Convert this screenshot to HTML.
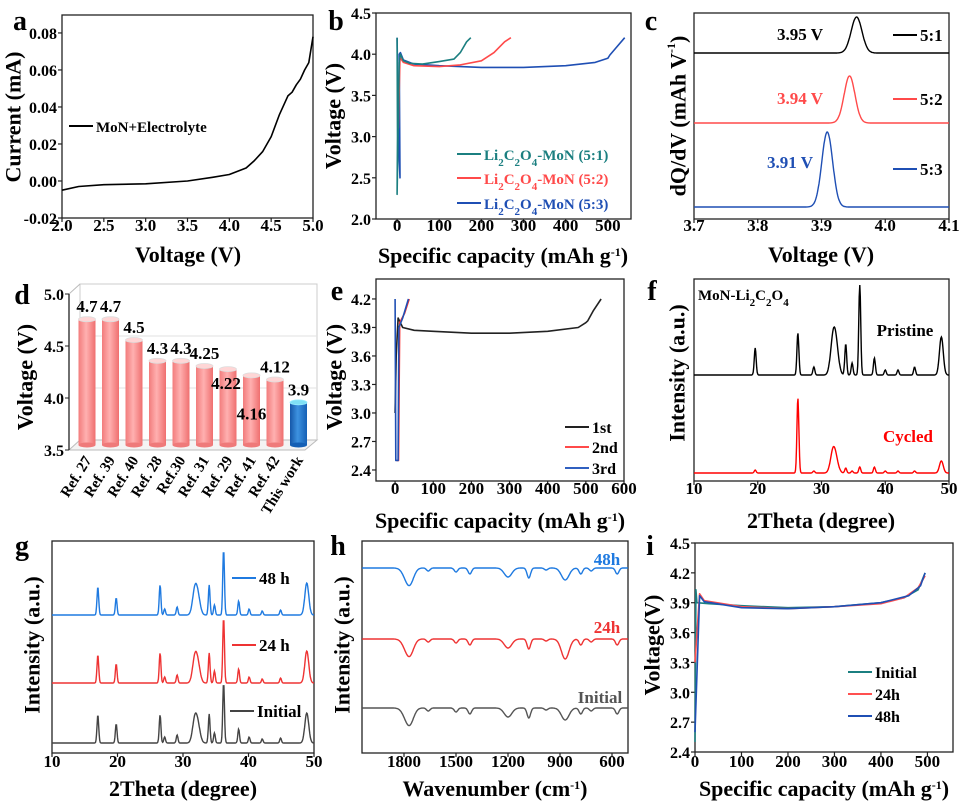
<!DOCTYPE html>
<html><head><meta charset="utf-8"><style>
body{margin:0;background:#fff}
svg{display:block;font-family:"Liberation Serif",serif;font-weight:bold}
</style></head><body>
<svg id="fig" width="961" height="806" viewBox="0 0 961 806">
<defs>
<linearGradient id="pinkg" x1="0" x2="1"><stop offset="0" stop-color="#f27c7c"/><stop offset="0.45" stop-color="#ffb0b0"/><stop offset="1" stop-color="#ef6f6f"/></linearGradient>
<linearGradient id="blueg" x1="0" x2="1"><stop offset="0" stop-color="#1557a8"/><stop offset="0.45" stop-color="#3d92e0"/><stop offset="1" stop-color="#1560b5"/></linearGradient>
</defs>
</svg>
<script>
// ---------- data ----------
const aV=[2.0,2.2,2.5,3.0,3.5,3.8,4.0,4.2,4.3,4.4,4.5,4.6,4.7,4.75,4.8,4.85,4.9,4.95,5.0];
const aI=[-0.005,-0.003,-0.002,-0.0015,0,0.002,0.0035,0.007,0.011,0.016,0.024,0.036,0.046,0.048,0.052,0.055,0.06,0.064,0.078];
const b1Q=[0,1,0,5,8,15,30,60,100,135,150,165,175];
const b1V=[4.2,3.0,2.3,3.9,4.0,3.92,3.89,3.88,3.91,3.94,4.02,4.15,4.2];
const b2Q=[3,7,15,40,100,150,200,230,255,270];
const b2V=[3.1,3.96,3.9,3.86,3.85,3.87,3.92,4.02,4.15,4.2];
const b3Q=[0,3,7,5,8,15,40,100,200,300,400,470,500,505,520,540];
const b3V=[4.2,3.0,2.5,4.0,4.02,3.93,3.88,3.86,3.84,3.84,3.86,3.9,3.95,3.99,4.08,4.2];
const cCenters=[3.955,3.944,3.909];
const cHeights=[36,47,75];
const cLabels=["3.95 V","3.94 V","3.91 V"];
const cLegend=["5:1","5:2","5:3"];
const dCats=["Ref. 27","Ref. 39","Ref. 40","Ref. 28","Ref.30","Ref. 31","Ref. 29","Ref. 41","Ref. 42","This work"];
const dVals=[4.7,4.7,4.5,4.3,4.3,4.25,4.22,4.16,4.12,3.9];
const dLabels=["4.7","4.7","4.5","4.3","4.3","4.25","4.22","4.16","4.12","3.9"];
const e1Q=[0,3,8,20,50,100,200,300,400,480,500,505,520,540];
const e1V=[3.0,3.6,4.0,3.9,3.87,3.86,3.84,3.84,3.86,3.9,3.95,3.97,4.08,4.2];
const e2Q=[4,9,12,25,37];
const e2V=[2.5,2.5,3.95,4.05,4.2];
const e3Q=[0,2,8,10,20,35];
const e3V=[4.2,2.5,2.5,3.9,4.0,4.2];
const fPos=[19.6,26.3,28.8,31.8,32.3,33.8,34.8,36.0,38.3,40.0,42.0,44.6,48.8];
const fPristine=[27,42,8,33,25,31,12,90,17,5,5,8,38];
const fCycled=[3,75,2,21,10,5,2,6,6,2,2,2,12];
const gPos=[17.0,19.8,26.5,27.2,29.1,31.8,32.3,34.0,34.8,36.2,38.5,40.1,42.1,44.9,48.9];
const g48=[28,17,30,6,8,24,16,30,10,65,14,6,4,5,32];
const g24=[28,19,30,6,8,24,16,30,12,65,14,6,4,5,32];
const gIni=[28,19,28,6,8,23,15,29,10,60,14,6,4,5,30];
const hPos=[1790,1765,1660,1500,1420,1200,1080,980,870,780,720,570];
const h48=[6,14,3,4,6,9,10,2,12,6,3,6];
const h24=[6,14,3,4,6,9,10,2,20,6,3,6];
const hIni=[6,14,3,4,6,9,10,2,12,6,3,6];
const iQ1=[0,2,4,30,100,200,300,400,450,480,495];
const iV1=[2.5,4.03,3.9,3.89,3.87,3.85,3.86,3.9,3.95,4.03,4.2];
const iQ2=[0,10,20,100,200,300,400,450,480,495];
const iV2=[3.3,3.99,3.92,3.86,3.84,3.86,3.89,3.95,4.05,4.17];
const iQ3=[0,10,20,100,200,300,400,460,485,495];
const iV3=[2.6,3.97,3.91,3.85,3.84,3.86,3.9,3.97,4.07,4.2];

// ---------- helpers ----------
const NS="http://www.w3.org/2000/svg";
const svg=document.getElementById('fig');
function mk(tag,attrs,name){
  const e=document.createElementNS(NS,tag);
  for(const k in attrs) e.setAttribute(k,attrs[k]);
  
  
  svg.appendChild(e); return e;
}
function txt(x,y,s,size,name,o){
  o=o||{};
  const a={x:x,y:y,'font-size':size,fill:o.fill||'#000','text-anchor':o.anchor||'middle'};
  if(o.rot!==undefined){a.transform='rotate('+o.rot+' '+x+' '+y+')';}
  if(o.db) a['dominant-baseline']=o.db;
  const e=mk('text',a,name); e.innerHTML=s; return e;
}
function scale(d0,d1,p0,p1){return v=>p0+(v-d0)*(p1-p0)/(d1-d0);}
function line(xs,ys,sx,sy,color,name,w){
  const pts=xs.map((x,i)=>sx(x).toFixed(1)+','+sy(ys[i]).toFixed(1)).join(' ');
  return mk('polyline',{points:pts,fill:'none',stroke:color,'stroke-width':w||1.6,'stroke-linejoin':'round'},name);
}
function frame(x0,y0,x1,y1,name){mk('rect',{x:x0,y:y0,width:x1-x0,height:y1-y0,fill:'none',stroke:'#222','stroke-width':1.3},name);}
function xticks(vals,labels,sx,y1,ly,name){
  vals.forEach((v,i)=>{mk('line',{x1:sx(v),x2:sx(v),y1:y1,y2:y1+4,stroke:'#222','stroke-width':1.2},name+'-tick');
    txt(sx(v),ly,labels[i],17,name+'-label');});
}
function yticks(vals,labels,sy,x0,name){
  vals.forEach((v,i)=>{mk('line',{x1:x0,x2:x0-4,y1:sy(v),y2:sy(v),stroke:'#222','stroke-width':1.2},name+'-tick');
    txt(x0-5,sy(v)+6,labels[i],16,name+'-label',{anchor:'end'});});
}
function peaks(pos,h,sig,x0,x1,sx,base,sign,name,color){
  const pts=[];
  for(let i=0;i<=500;i++){const x=x0+(x1-x0)*i/500;let s=0;
    pos.forEach((p,k)=>{const sg=sig(p);s+=h[k]*Math.exp(-((x-p)*(x-p))/(2*sg*sg));});
    pts.push(sx(x).toFixed(1)+','+(base-sign*s).toFixed(1));}
  return mk('polyline',{points:pts.join(' '),fill:'none',stroke:color,'stroke-width':1.4},name);
}
function legendLine(x,y,color,label,name,fs,tc){
  mk('line',{x1:x,x2:x+24,y1:y,y2:y,stroke:color,'stroke-width':2},name+'-line');
  txt(x+27,y+6,label,fs||17,name+'-text',{anchor:'start',fill:tc||'#000'});
}
const sub=s=>'<tspan baseline-shift="sub" font-size="11">'+s+'</tspan>';
const sup=s=>'<tspan baseline-shift="super" font-size="12">'+s+'</tspan>';
const r=(a,b,s)=>{const o=[];for(let v=a;v<=b+1e-9;v+=s)o.push(+v.toFixed(3));return o;};

// ---------- panel a ----------
{const sx=scale(2,5,62,313), sy=scale(-0.02,0.0897,218,15);
frame(62,15,313,218,'panel-a-frame');
const xv=r(2,5,0.5); xticks(xv,xv.map(v=>v.toFixed(1)),sx,218,231,'a-x');
const yv=r(-0.02,0.08,0.02); yticks(yv,yv.map(v=>v.toFixed(2)),sy,62,'a-y');
line(aV,aI,sx,sy,'#000','a-current-curve');
legendLine(69,126,'#000','MoN+Electrolyte','a-legend',15);
txt(188,262,'Voltage (V)',22,'a-x-title');
txt(13,117,'Current (mA)',22,'a-y-title',{rot:-90,db:'central'});
txt(20,30,'a',28,'panel-a-letter');}

// ---------- panel b ----------
{const sx=scale(-50,555,376,631), sy=scale(2,4.5,219,13);
frame(376,13,631,219,'panel-b-frame');
const xv=r(0,500,100); xticks(xv,xv.map(String),sx,219,231,'b-x');
const yv=r(2,4.5,0.5); yticks(yv,yv.map(v=>v.toFixed(1)),sy,376,'b-y');
line(b3Q,b3V,sx,sy,'#1f4fb4','b-series-5-3');
line(b2Q,b2V,sx,sy,'#ff4a4a','b-series-5-2');
line(b1Q,b1V,sx,sy,'#1b7f80','b-series-5-1');
legendLine(457,154,'#1b7f80','Li'+sub('2')+'C'+sub('2')+'O'+sub('4')+'-MoN (5:1)','b-legend-5-1',15,'#1b7f80');
legendLine(457,178,'#ff4a4a','Li'+sub('2')+'C'+sub('2')+'O'+sub('4')+'-MoN (5:2)','b-legend-5-2',15,'#ff4a4a');
legendLine(457,203,'#1f4fb4','Li'+sub('2')+'C'+sub('2')+'O'+sub('4')+'-MoN (5:3)','b-legend-5-3',15,'#1f4fb4');
txt(503,263,'Specific capacity (mAh g'+sup('-1')+')',22,'b-x-title');
txt(333,116,'Voltage (V)',22,'b-y-title',{rot:-90,db:'central'});
txt(336,30,'b',28,'panel-b-letter');}

// ---------- panel c ----------
{const sx=scale(3.7,4.1,694,949);
frame(694,13,949,219,'panel-c-frame');
const xv=r(3.7,4.1,0.1); xticks(xv,xv.map(v=>v.toFixed(1)),sx,219,231,'c-x');
const bases=[53,123,207], cols=['#000','#ff4a4a','#1f4fb4'];
cCenters.forEach((c,i)=>{peaks([c],[cHeights[i]],()=>0.0085,3.7,4.1,sx,bases[i],1,'c-peak-'+cLegend[i],cols[i]);
  txt(i==2?790:800,[40,104,168][i],cLabels[i],17,'c-peak-label',{fill:cols[i]});
  legendLine(893,[35,99,169][i],cols[i],cLegend[i],'c-legend-'+i,17);});
txt(821,262,'Voltage (V)',22,'c-x-title');
txt(678,116,'dQ/dV (mAh V'+sup('-1')+')',22,'c-y-title',{rot:-90,db:'central'});
txt(651,30,'c',28,'panel-c-letter');}

// ---------- panel d ----------
{const sy=scale(3.5,5.0,450,294);
mk('polygon',{points:'69,450 80,440 317,440 305,450',fill:'#f4f4f4',stroke:'#bbb','stroke-width':1},'d-floor');
mk('polyline',{points:'80,440 80,284 317,284 317,440',fill:'none',stroke:'#ccc','stroke-width':1},'d-back-wall');
[4.0,4.5].forEach(v=>mk('line',{x1:80,x2:317,y1:sy(v)-10,y2:sy(v)-10,stroke:'#e2e2e2','stroke-width':1},'d-gridline'));
mk('line',{x1:80,x2:69,y1:284,y2:294,stroke:'#bbb'},'d-edge');
mk('line',{x1:69,x2:69,y1:294,y2:450,stroke:'#222','stroke-width':1.3},'d-y-axis');
[3.5,4.0,4.5,5.0].forEach(v=>{mk('line',{x1:69,x2:65,y1:sy(v),y2:sy(v),stroke:'#222'},'d-y-tick');
  txt(64,sy(v)+6,v.toFixed(1),16,'d-y-label',{anchor:'end'});});
const cx0=87, step=23.5;
dVals.forEach((v,i)=>{const cx=cx0+i*step, top=sy(v)-6, bot=445, w=17, blue=i==9;
  mk('rect',{x:cx-w/2,y:top,width:w,height:bot-top,fill:blue?'url(#blueg)':'url(#pinkg)'},'d-bar-'+dCats[i]);
  mk('ellipse',{cx:cx,cy:bot,rx:w/2,ry:2.5,fill:blue?'#1560b5':'#ef7a7a'},'d-bar-base');
  mk('ellipse',{cx:cx,cy:top,rx:w/2,ry:2.5,fill:blue?'#7fe0f5':'#ffd6d6',stroke:blue?'#9ef':'#ddd','stroke-width':0.8},'d-bar-top');
  let ly=top-7; if(i==6) ly=top+20; if(i==7) ly=top+44;
  txt(i==6?cx-2:cx,ly,dLabels[i],17,'d-value-label');
  txt(cx+5,460,dCats[i],15,'d-x-label',{anchor:'end',rot:-58});});
txt(25,377,'Voltage (V)',22,'d-y-title',{rot:-90,db:'central'});
txt(22,304,'d',28,'panel-d-letter');}

// ---------- panel e ----------
{const sx=scale(-50,600,376,624), sy=scale(2.284,4.41,481,279);
frame(376,279,624,481,'panel-e-frame');
const xv=r(0,600,100); xticks(xv,xv.map(String),sx,481,494,'e-x');
const yv=r(2.4,4.2,0.3); yticks(yv,yv.map(v=>v.toFixed(1)),sy,376,'e-y');
line(e1Q,e1V,sx,sy,'#222','e-series-1st');
line(e2Q,e2V,sx,sy,'#ff3030','e-series-2nd');
line(e3Q,e3V,sx,sy,'#1f4fb4','e-series-3rd');
legendLine(565,427,'#222','1st','e-legend-1st',16);
legendLine(565,447,'#ff4a4a','2nd','e-legend-2nd',16);
legendLine(565,468,'#3060c0','3rd','e-legend-3rd',16);
txt(500,528,'Specific capacity (mAh g'+sup('-1')+')',22,'e-x-title');
txt(334,377,'Voltage (V)',22,'e-y-title',{rot:-90,db:'central'});
txt(337,300,'e',28,'panel-e-letter');}

// ---------- panel f ----------
{const sx=scale(10,50,694,949);
frame(694,279,949,481,'panel-f-frame');
const xv=r(10,50,10); xticks(xv,xv.map(String),sx,481,494,'f-x');
const sg=p=>(p>31&&p<33)?0.4:(p>48?0.3:0.15);
peaks(fPos,fPristine,sg,10,50,sx,375,1,'f-pristine-pattern','#000');
peaks(fPos,fCycled,sg,10,50,sx,473,1,'f-cycled-pattern','#ff0000');
txt(698,300,'MoN-Li'+sub('2')+'C'+sub('2')+'O'+sub('4'),15,'f-sample-label',{anchor:'start'});
txt(905,336,'Pristine',17,'f-pristine-label');
txt(908,442,'Cycled',17,'f-cycled-label',{fill:'#ff0000'});
txt(821,528,'2Theta (degree)',22,'f-x-title');
txt(677,373,'Intensity (a.u.)',22,'f-y-title',{rot:-90,db:'central'});
txt(652,300,'f',28,'panel-f-letter');}

// ---------- panel g ----------
{const sx=scale(10,50,52,314);
frame(52,541,314,753,'panel-g-frame');
const xv=r(10,50,10); xticks(xv,xv.map(String),sx,753,767,'g-x');
const sg=p=>(p>31&&p<33)?0.35:(p>48?0.3:0.13);
peaks(gPos,gIni,sg,10,50,sx,743,1,'g-initial-pattern','#444');
peaks(gPos,g24,sg,10,50,sx,683,1,'g-24h-pattern','#ee3333');
peaks(gPos,g48,sg,10,50,sx,615,1,'g-48h-pattern','#1f7ae0');
legendLine(232,578,'#1f7ae0','48 h','g-legend-48h',17);
legendLine(232,645,'#ee3333','24 h','g-legend-24h',17);
legendLine(230,711,'#444','Initial','g-legend-initial',17);
txt(183,796,'2Theta (degree)',22,'g-x-title');
txt(32,645,'Intensity (a.u.)',22,'g-y-title',{rot:-90,db:'central'});
txt(22,555,'g',28,'panel-g-letter');}

// ---------- panel h ----------
{const sx=scale(1800,600,404,612);
frame(362,541,628,753,'panel-h-frame');
const xv=[1800,1500,1200,900,600]; xticks(xv,xv.map(String),sx,753,767,'h-x');
const sg=p=>(p>1700||p==1200||p==870)?22:10;
peaks(hPos,hIni,sg,2042,508,sx,708,-1,'h-initial-spectrum','#555');
peaks(hPos,h24,sg,2042,508,sx,639,-1,'h-24h-spectrum','#ee3333');
peaks(hPos,h48,sg,2042,508,sx,568,-1,'h-48h-spectrum','#1f7ae0');
txt(607,565,'48h',17,'h-48h-label',{fill:'#1f7ae0'});
txt(607,633,'24h',17,'h-24h-label',{fill:'#ee3333'});
txt(600,703,'Initial',17,'h-initial-label',{fill:'#555'});
txt(495,796,'Wavenumber (cm'+sup('-1')+')',22,'h-x-title');
txt(342,645,'Intensity (a.u.)',22,'h-y-title',{rot:-90,db:'central'});
txt(338,555,'h',28,'panel-h-letter');}

// ---------- panel i ----------
{const sx=scale(0,555,695,953), sy=scale(2.4,4.5,752,543);
frame(695,543,953,752,'panel-i-frame');
const xv=r(0,500,100); xticks(xv,xv.map(String),sx,752,767,'i-x');
const yv=r(2.4,4.5,0.3); yticks(yv,yv.map(v=>v.toFixed(1)),sy,695,'i-y');
line(iQ1,iV1,sx,sy,'#1b7f80','i-series-initial');
line(iQ2,iV2,sx,sy,'#ff5050','i-series-24h');
line(iQ3,iV3,sx,sy,'#1f4fb4','i-series-48h');
legendLine(848,672,'#1b7f80','Initial','i-legend-initial',16);
legendLine(848,694,'#ff5050','24h','i-legend-24h',16);
legendLine(848,716,'#1f4fb4','48h','i-legend-48h',16);
txt(824,796,'Specific capacity (mAh g'+sup('-1')+')',22,'i-x-title');
txt(652,645,'Voltage(V)',22,'i-y-title',{rot:-90,db:'central'});
txt(650,555,'i',28,'panel-i-letter');}
</script>
</body></html>
